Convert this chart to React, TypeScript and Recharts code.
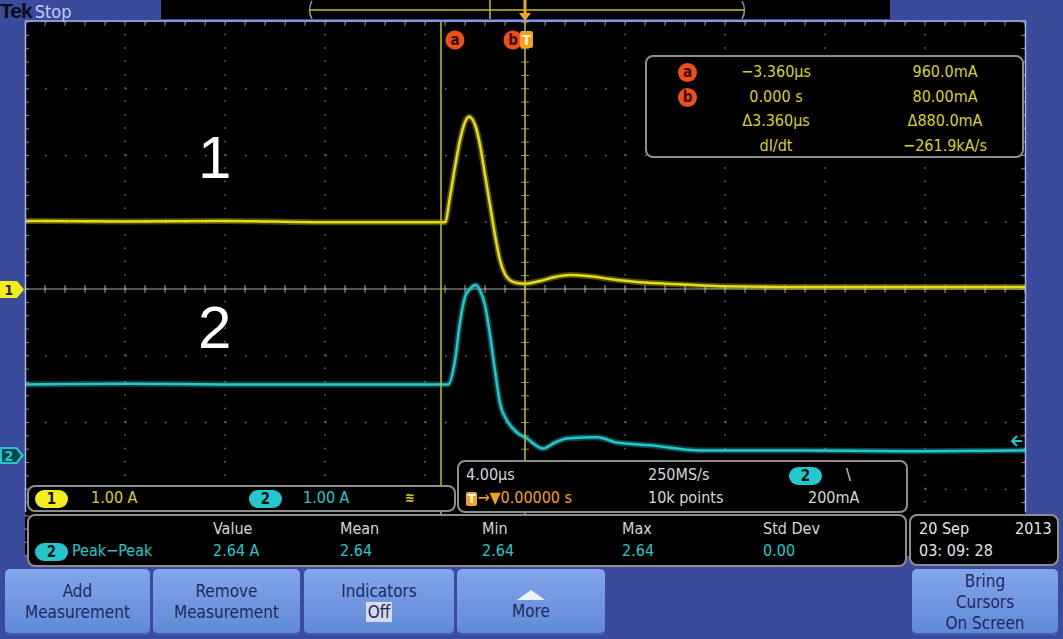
import React from 'react';
import { LineChart, Line, XAxis, YAxis, CartesianGrid, ReferenceLine } from 'recharts';

// time in µs (4 µs/div, trigger at 0), current in A (1 A/div)
const ch1Time = [-20, -16, -12, -8, -4, -3.2, -3.0, -2.8, -2.6, -2.4, -2.24, -2.0, -1.8, -1.6, -1.4, -1.2, -1.0, -0.8, -0.6, -0.32, 0, 0.6, 1.2, 1.8, 2.6, 3.4, 4.6, 6.2, 7.8, 11, 15, 20];
const ch1Amps = [1.02, 1.01, 1.02, 1.0, 1.0, 1.0, 1.38, 1.83, 2.23, 2.5, 2.58, 2.46, 2.16, 1.71, 1.26, 0.81, 0.43, 0.22, 0.13, 0.09, 0.08, 0.12, 0.18, 0.21, 0.19, 0.15, 0.1, 0.07, 0.04, 0.03, 0.03, 0.03];

const ch2Time = [-20, -16, -12, -8, -4, -3.08, -2.8, -2.6, -2.4, -2.2, -1.96, -1.8, -1.6, -1.4, -1.2, -1.0, -0.72, -0.32, 0.08, 0.72, 1.2, 1.68, 2.88, 3.68, 5.0, 7.0, 11, 15, 20];
const ch2Amps = [1.06, 1.07, 1.06, 1.06, 1.06, 1.06, 1.42, 1.99, 2.37, 2.49, 2.55, 2.47, 2.25, 1.8, 1.27, 0.78, 0.52, 0.34, 0.25, 0.1, 0.19, 0.25, 0.27, 0.19, 0.15, 0.07, 0.07, 0.06, 0.07];

const timeTicks = [-20, -16, -12, -8, -4, 0, 4, 8, 12, 16, 20];
const divTicks = [-4, -3, -2, -1, 0, 1, 2, 3, 4];
const ch2Domain = [-1.51, 6.49];
const cursorA = -3.36;
const cursorB = 0;

const cursorRows = [
  ['a', '\u22123.360\u00b5s', '960.0mA'],
  ['b', '0.000 s', '80.00mA'],
  ['', '\u03943.360\u00b5s', '\u0394880.0mA'],
  ['', 'dI/dt', '\u2212261.9kA/s'],
];
const measHeaders = ['Value', 'Mean', 'Min', 'Max', 'Std Dev'];
const measValues = ['2.64 A', '2.64', '2.64', '2.64', '0.00'];
const measCols = [213, 340, 482, 622, 763];

const ch1Data = ch1Time.map((t, i) => ({ t, amps: ch1Amps[i] }));
const ch2Data = ch2Time.map((t, i) => ({ t, amps: ch2Amps[i] }));

const YEL = '#e4dc1c';
const CYAN = '#22c8cc';
const BLUE = '#3b4b9b';
const GRID = '#707070';
const FONT = "'DejaVu Sans Condensed', 'Liberation Sans Narrow', 'DejaVu Sans', sans-serif";

// graticule line with minor ticks, drawn along a reference line
const ticked = (count: number, a: number, b: number, color: string, drawLine: boolean) => (p: any) => {
  const { x1, y1, x2, y2 } = p;
  const horiz = Math.abs(y2 - y1) < 1;
  const marks = [];
  for (let k = 0; k <= count; k++) {
    const x = x1 + ((x2 - x1) * k) / count;
    const y = y1 + ((y2 - y1) * k) / count;
    marks.push(
      horiz ? <line key={k} x1={x} x2={x} y1={y + a} y2={y + b} /> : <line key={k} x1={x + a} x2={x + b} y1={y} y2={y} />
    );
  }
  return (
    <g stroke={color} strokeWidth={1}>
      {drawLine && <line x1={x1} y1={y1} x2={x2} y2={y2} />}
      {marks}
    </g>
  );
};

function CursorTag({ viewBox, letter, trigger }: any) {
  const x = viewBox.x + (viewBox.width || 0) / 2;
  const top = Math.min(viewBox.y, viewBox.y + (viewBox.height || 0));
  const cx = trigger ? x - 12 : x + 14;
  const cy = top + 18;
  return (
    <g>
      <circle cx={cx} cy={cy} r={9.5} fill="#ee4f1c" />
      <text x={cx} y={cy + 5} textAnchor="middle" fontSize={15} fontWeight="bold" fill="#3a0d00" fontFamily={FONT}>
        {letter}
      </text>
      {trigger && (
        <>
          <rect x={x - 5} y={cy - 9} width={13} height={17} rx={2} fill="#f2a21e" />
          <text x={x + 1.5} y={cy + 5} textAnchor="middle" fontSize={14} fontWeight="bold" fill="#fff4d0" fontFamily={FONT}>
            T
          </text>
          <line x1={x} x2={x} y1={top - 22} y2={top - 6} stroke="#f2a21e" strokeWidth={3} />
          <polygon points={`${x - 6},${top - 9} ${x + 6},${top - 9} ${x},${top - 1}`} fill="#f2a21e" />
        </>
      )}
    </g>
  );
}

const Pill = ({ n, bg }: { n: string; bg: string }) => (
  <span
    style={{
      display: 'inline-block',
      background: bg,
      color: '#111',
      borderRadius: 9,
      width: 33,
      height: 18,
      lineHeight: '18px',
      textAlign: 'center',
      fontWeight: 'bold',
      fontSize: 15,
    }}
  >
    {n}
  </span>
);

const panel = (left: number, top: number, width: number, height: number): React.CSSProperties => ({
  position: 'absolute',
  left,
  top,
  width,
  height,
  background: '#000',
  border: '2px solid #8e8e8e',
  borderRadius: 8,
  boxSizing: 'border-box',
});

const abs = (left: number, top: number, extra: React.CSSProperties = {}): React.CSSProperties => ({
  position: 'absolute',
  left,
  top,
  whiteSpace: 'nowrap',
  ...extra,
});

const Button = ({ left, width, lines }: { left: number; width: number; lines: React.ReactNode[] }) => (
  <div
    style={{
      position: 'absolute',
      left,
      top: 569,
      width,
      height: 66,
      borderRadius: 5,
      background: 'linear-gradient(#83a6ea, #6088d6)',
      color: '#1c2a62',
      fontSize: 17,
      lineHeight: '21px',
      display: 'flex',
      flexDirection: 'column',
      justifyContent: 'center',
      alignItems: 'center',
      boxShadow: 'inset 0 -2px 0 #3f5fae',
    }}
  >
    {lines.map((l, i) => (
      <div key={i}>{l}</div>
    ))}
  </div>
);

export default function App() {
  return (
    <div style={{ position: 'absolute', left: 0, top: 0, width: 1063, height: 639, background: BLUE, overflow: 'hidden', fontFamily: FONT }}>
      {/* record bar sits under the chart so the trigger arrow shows on top */}
      <svg width={1063} height={22} style={{ position: 'absolute', left: 0, top: 0 }}>
        <rect x={161} y={0} width={729} height={19} fill="#000" />
        <line x1={309} y1={10} x2={745} y2={10} stroke="#c9bf1e" strokeWidth={1.5} />
        <path d="M312,1 Q307,10 312,19" stroke="#9a9a9a" fill="none" strokeWidth={1.5} />
        <path d="M742,1 Q747,10 742,19" stroke="#9a9a9a" fill="none" strokeWidth={1.5} />
        <line x1={490} y1={0} x2={490} y2={19} stroke="#c9bf1e" strokeWidth={1.5} />
      </svg>

      <LineChart width={1063} height={639} margin={{ top: 22, right: 38, bottom: 83, left: 25 }} style={{ position: 'absolute', left: 0, top: 0 }}>
        <CartesianGrid xAxisId="t" yAxisId="ch1" fill="#000" horizontal={false} vertical={false} />
        <XAxis xAxisId="t" type="number" dataKey="t" domain={[-20, 20]} ticks={timeTicks} axisLine={false} tickLine={false} tick={false} height={0} />
        <YAxis yAxisId="ch1" type="number" domain={[-4, 4]} ticks={divTicks} axisLine={false} tickLine={false} tick={false} width={0} />
        <YAxis yAxisId="ch2" type="number" domain={ch2Domain} axisLine={false} tickLine={false} tick={false} width={0} allowDataOverflow />
        {divTicks.map((d) => (
          <ReferenceLine key={'h' + d} xAxisId="t" yAxisId="ch1" y={d} stroke={GRID} strokeWidth={1.5} strokeDasharray="1.5 18.5" />
        ))}
        {timeTicks.map((t) => (
          <ReferenceLine key={'v' + t} xAxisId="t" yAxisId="ch1" x={t} stroke={GRID} strokeWidth={1.5} strokeDasharray="1.5 11.85" />
        ))}
        <ReferenceLine xAxisId="t" yAxisId="ch1" y={4} shape={ticked(50, 0, 4, '#8a8a8a', false)} />
        <ReferenceLine xAxisId="t" yAxisId="ch1" x={-20} shape={ticked(40, 0, 4, '#8a8a8a', false)} />
        <ReferenceLine xAxisId="t" yAxisId="ch1" x={20} shape={ticked(40, -4, 0, '#8a8a8a', false)} />
        <ReferenceLine xAxisId="t" yAxisId="ch1" x={0} shape={ticked(40, -4, 4, '#8a8a8a', false)} />
        <ReferenceLine xAxisId="t" yAxisId="ch1" y={0} shape={ticked(50, -4, 4, '#b0a58c', true)} />
        <Line xAxisId="t" yAxisId="ch1" data={ch1Data} dataKey="amps" type="monotone" stroke={YEL} strokeWidth={6} strokeOpacity={0.35} dot={false} isAnimationActive={false} />
        <Line xAxisId="t" yAxisId="ch1" data={ch1Data} dataKey="amps" type="monotone" stroke={YEL} strokeWidth={2.5} dot={false} isAnimationActive={false} />
        <Line xAxisId="t" yAxisId="ch2" data={ch2Data} dataKey="amps" type="monotone" stroke={CYAN} strokeWidth={6} strokeOpacity={0.35} dot={false} isAnimationActive={false} />
        <Line xAxisId="t" yAxisId="ch2" data={ch2Data} dataKey="amps" type="monotone" stroke={CYAN} strokeWidth={2.5} dot={false} isAnimationActive={false} />
        <ReferenceLine xAxisId="t" yAxisId="ch1" x={cursorA} stroke="#c9bf1e" strokeWidth={1.5} label={<CursorTag letter="a" />} />
        <ReferenceLine xAxisId="t" yAxisId="ch1" x={cursorB} stroke="#c9bf1e" strokeWidth={1.5} label={<CursorTag letter="b" trigger />} />
      </LineChart>

      {/* frame and channel markers */}
      <svg width={1063} height={639} style={{ position: 'absolute', left: 0, top: 0, pointerEvents: 'none' }}>
        <line x1={25.5} y1={21} x2={25.5} y2={512} stroke="#9fb0ea" strokeWidth={1.5} />
        <line x1={25} y1={21} x2={1026} y2={21} stroke="#9fb0ea" strokeWidth={1.5} />
        <line x1={1025.5} y1={21} x2={1025.5} y2={512} stroke="#9fb0ea" strokeWidth={1.5} />
        <polygon points="0,281 17,281 24,289.5 17,298 0,298" fill="#f2ee1a" />
        <text x={9} y={295} textAnchor="middle" fontSize={14} fontWeight="bold" fill="#222" fontFamily={FONT}>1</text>
        <polygon points="0,447 17,447 24,455.5 17,464 0,464" fill={CYAN} />
        <polygon points="2,449 16,449 21,455.5 16,462 2,462" fill="#0d4850" />
        <text x={9} y={461} textAnchor="middle" fontSize={14} fontWeight="bold" fill={CYAN} fontFamily={FONT}>2</text>
        <path d="M1022,441 L1012,441 M1017,436 L1012,441 L1017,446" stroke={CYAN} strokeWidth={2} fill="none" />
      </svg>

      <div style={abs(0, 0, { fontSize: 21, lineHeight: '21px' })}>
        <span style={{ color: '#0c0c14', fontWeight: 'bold', fontFamily: "'Liberation Sans', sans-serif", letterSpacing: -1 }}>Tek</span>
        <span style={{ color: '#c4ccf2', marginLeft: 3, fontSize: 18 }}>Stop</span>
      </div>

      <div style={abs(198, 128, { color: '#fff', fontSize: 60, lineHeight: '60px', fontFamily: "'Liberation Sans', sans-serif" })}>1</div>
      <div style={abs(198, 298, { color: '#fff', fontSize: 60, lineHeight: '60px', fontFamily: "'Liberation Sans', sans-serif" })}>2</div>

      {/* cursor readout */}
      <div style={panel(645, 55, 379, 103)}>
        {cursorRows.map((r, i) => (
          <div key={i} style={{ position: 'absolute', top: 3 + i * 24.5, left: 0, width: 375, height: 24, color: '#d8d026', fontSize: 16, lineHeight: '24px' }}>
            {r[0] && (
              <span style={abs(31, 3, { width: 19, height: 19, borderRadius: 10, background: '#ee4f1c', color: '#3a0d00', textAlign: 'center', lineHeight: '18px', fontWeight: 'bold', fontSize: 15 })}>
                {r[0]}
              </span>
            )}
            <span style={abs(77, 0, { width: 104, textAlign: 'center' })}>{r[1]}</span>
            <span style={abs(243, 0, { width: 110, textAlign: 'center' })}>{r[2]}</span>
          </div>
        ))}
      </div>

      {/* channel readout */}
      <div style={panel(27, 485, 429, 27)}>
        <div style={abs(6, 2)}><Pill n="1" bg="#f2ee1a" /></div>
        <div style={abs(62, 1, { color: '#d8d026', fontSize: 16, lineHeight: '20px' })}>1.00 A</div>
        <div style={abs(220, 2)}><Pill n="2" bg={CYAN} /></div>
        <div style={abs(274, 1, { color: CYAN, fontSize: 16, lineHeight: '20px' })}>1.00 A</div>
        <div style={abs(376, 1, { color: '#d8d026', fontSize: 13, lineHeight: '20px', fontWeight: 'bold' })}>&#8779;</div>
      </div>

      {/* timebase / trigger readout */}
      <div style={panel(457, 460, 451, 53)}>
        <div style={abs(7, 3, { color: '#d6d6d6', fontSize: 16, lineHeight: '20px' })}>4.00&micro;s</div>
        <div style={abs(7, 26, { color: '#f2a21e', fontSize: 16, lineHeight: '20px' })}>
          <span style={{ background: '#f2a21e', color: '#fff', fontWeight: 'bold', fontSize: 12, padding: '0 2px', borderRadius: 2 }}>T</span>
          &rarr;&#9660;0.00000 s
        </div>
        <div style={abs(189, 3, { color: '#d6d6d6', fontSize: 16, lineHeight: '20px' })}>250MS/s</div>
        <div style={abs(189, 26, { color: '#d6d6d6', fontSize: 16, lineHeight: '20px' })}>10k points</div>
        <div style={abs(330, 4)}><Pill n="2" bg={CYAN} /></div>
        <div style={abs(387, 3, { color: '#d6d6d6', fontSize: 16, lineHeight: '20px' })}>\</div>
        <div style={abs(349, 26, { color: '#d6d6d6', fontSize: 16, lineHeight: '20px' })}>200mA</div>
      </div>

      {/* measurements */}
      <div style={panel(27, 514, 880, 53)}>
        {measHeaders.map((h, i) => (
          <div key={h} style={abs(measCols[i] - 29, 3, { color: '#d6d6d6', fontSize: 16, lineHeight: '20px' })}>{h}</div>
        ))}
        <div style={abs(6, 26)}><Pill n="2" bg={CYAN} /></div>
        <div style={abs(43, 25, { color: CYAN, fontSize: 16, lineHeight: '20px' })}>Peak&minus;Peak</div>
        {measValues.map((v, i) => (
          <div key={i} style={abs(measCols[i] - 29, 25, { color: CYAN, fontSize: 16, lineHeight: '20px' })}>{v}</div>
        ))}
      </div>

      {/* date */}
      <div style={panel(909, 514, 150, 52)}>
        <div style={abs(8, 3, { color: '#e4e4e4', fontSize: 16, lineHeight: '20px' })}>20 Sep</div>
        <div style={abs(104, 3, { color: '#e4e4e4', fontSize: 16, lineHeight: '20px' })}>2013</div>
        <div style={abs(8, 25, { color: '#e4e4e4', fontSize: 16, lineHeight: '20px' })}>03: 09: 28</div>
      </div>

      <Button left={5} width={145} lines={['Add', 'Measurement']} />
      <Button left={153} width={147} lines={['Remove', 'Measurement']} />
      <Button
        left={304}
        width={150}
        lines={['Indicators', <span style={{ background: '#d8dce8', color: '#1c2a62', padding: '0 2px' }}>Off</span>]}
      />
      <Button
        left={457}
        width={148}
        lines={[
          <svg width={30} height={12} style={{ display: 'block', marginTop: 6 }}>
            <polygon points="15,1 29,11 1,11" fill="#eef2ff" />
          </svg>,
          'More',
        ]}
      />
      <Button left={912} width={146} lines={['Bring', 'Cursors', 'On Screen']} />
    </div>
  );
}
